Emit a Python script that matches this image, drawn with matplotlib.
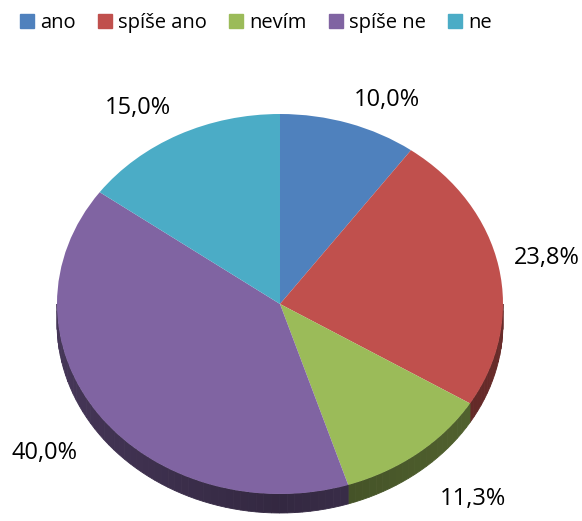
import numpy as np
import matplotlib
matplotlib.use('Agg')
import matplotlib.pyplot as plt
from matplotlib.lines import Line2D
from matplotlib.patches import Polygon
from matplotlib.colors import to_rgb

plt.rcParams['font.family'] = ['Open Sans', 'DejaVu Sans']

categories = ['ano', 'spíše ano', 'nevím', 'spíše ne', 'ne']
values = [10.0, 23.8, 11.3, 40.0, 15.0]
labels = ['10,0%', '23,8%', '11,3%', '40,0%', '15,0%']
colors = ['#4f81bd', '#c0504d', '#9bbb59', '#8064a2', '#4bacc6']

# label nudges (pixels) away from the rim point at the slice middle
label_nudge = [(38, 23), (48, 9), (55, -46), (-55, -38), (-41, 27)]

W, H = 582, 521
fig = plt.figure(figsize=(W / 100, H / 100), dpi=100)
ax = fig.add_axes([0, 0, 1, 1])

# ellipse geometry in pixels (top face)
cx, cy, a, b = 280, 304, 223, 190
depth = 19 / b

wedges, _ = ax.pie(values, colors=colors, startangle=90, counterclock=False,
                   radius=1, wedgeprops=dict(linewidth=0, zorder=3))
ax.set_aspect('auto')
ax.set_xlim(-cx / a, (W - cx) / a)
ax.set_ylim(-(H - cy) / b, cy / b)
ax.axis('off')

# side of the 3d pie (front half only)
frac = np.array(values) / sum(values)
ends = 90 - 360 * np.cumsum(frac)
starts = np.concatenate([[90], ends[:-1]])
for t0, t1, c in zip(starts, ends, colors):
    lo, hi = max(t1, -180), min(t0, 0)
    if hi <= lo:
        continue
    base = np.array(to_rgb(c))
    edges = np.linspace(lo, hi, int((hi - lo) / 2) + 2)
    for e0, e1 in zip(edges[:-1], edges[1:]):
        tt = np.radians(np.linspace(e0, e1, 4))
        xs = np.cos(tt)
        ys = np.sin(tt)
        pts = np.column_stack([np.r_[xs, xs[::-1]], np.r_[ys, ys[::-1] - depth]])
        m = np.radians((e0 + e1) / 2)
        f = 0.40 + 0.14 * abs(np.cos(m))
        ax.add_patch(Polygon(pts, closed=True, facecolor=base * f,
                             edgecolor=base * f, linewidth=0.6, zorder=2))

# data labels
for t0, t1, lab, (dx, dy) in zip(starts, ends, labels, label_nudge):
    m = np.radians((t0 + t1) / 2)
    ax.annotate(lab, xy=(np.cos(m), np.sin(m)), xytext=(dx * 0.72, dy * 0.72),
                textcoords='offset points', ha='center', va='center',
                fontsize=17, color='#000000', zorder=5)

handles = [Line2D([], [], marker='s', linestyle='none', markersize=9.5,
                  color=c) for c in colors]
fig.legend(handles, categories, loc='center', bbox_to_anchor=(0.44, 1 - 23 / H),
           ncol=5, frameon=False, fontsize=14.5, handlelength=0.7,
           handletextpad=0.3, columnspacing=1.1, borderpad=0)

fig.savefig('out.png', dpi=100)
